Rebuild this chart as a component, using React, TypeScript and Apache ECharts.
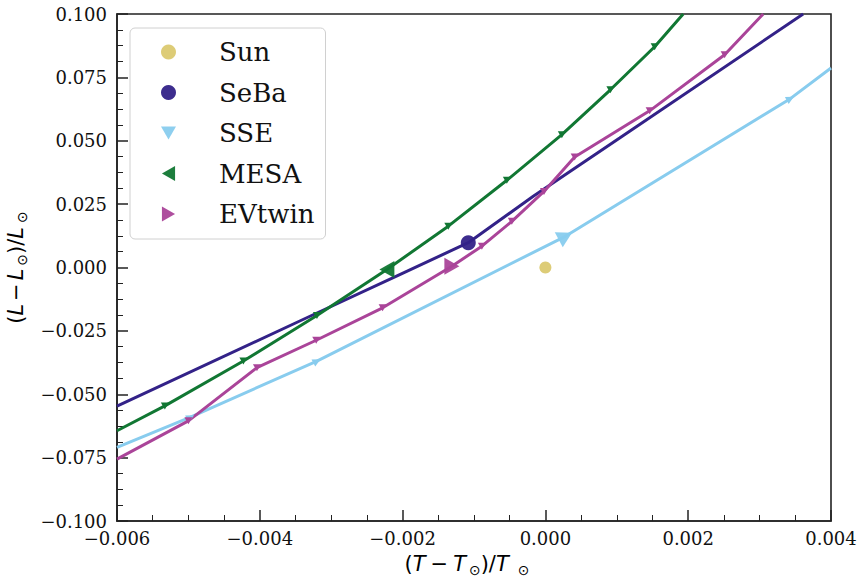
import React, { useEffect, useRef } from "react";
import * as echarts from "echarts";

// ---- data ----
const sunX = [0.0];
const sunY = [0.0];

const sebaX = [-0.006, -0.00344, -0.00204, -0.00108, -0.00017, 0.00104, 0.00361];
const sebaY = [-0.0547, -0.0211, -0.0028, 0.0098, 0.0281, 0.0511, 0.1];
const sebaBig = [3];

const sseX = [-0.006, -0.00497, -0.0032, 0.00028, 0.00343, 0.004];
const sseY = [-0.071, -0.059, -0.0369, 0.0123, 0.0666, 0.0787];
const sseSmall = [1, 2, 4];
const sseBig = [3];

const mesaX = [-0.006, -0.00533, -0.00423, -0.0032, -0.00222, -0.00136, -0.00054, 0.00023, 0.00091, 0.00153, 0.00193];
const mesaY = [-0.0644, -0.0546, -0.0369, -0.0189, -0.0008, 0.0163, 0.0344, 0.0524, 0.0701, 0.0871, 0.1];
const mesaSmall = [1, 2, 3, 5, 6, 7, 8, 9];
const mesaBig = [4];

const evX = [-0.006, -0.005, -0.00404, -0.00321, -0.00228, -0.00131, -0.00089, -0.00047, -0.00002, 0.00041, 0.00146, 0.00251, 0.00305];
const evY = [-0.0756, -0.0605, -0.0395, -0.0287, -0.0159, 0.0005, 0.0084, 0.0182, 0.03, 0.0436, 0.0618, 0.0839, 0.1];
const evSmall = [1, 2, 3, 4, 6, 7, 8, 9, 10, 11];
const evBig = [5];

const legendNames = ["Sun", "SeBa", "SSE", "MESA", "EVtwin"];
const xTicks = { min: -0.006, max: 0.004, interval: 0.002 };
const yTicks = { min: -0.1, max: 0.1, interval: 0.025 };

// ---- styles ----
const C_SUN = "#DDCC77";
const C_SEBA = "#332288";
const C_SSE = "#88CCEE";
const C_MESA = "#117733";
const C_EV = "#AA4499";

const pts = (xs: number[], ys: number[]) => xs.map((x, i) => [x, ys[i]]);
const pick = (xs: number[], ys: number[], idx: number[]) => idx.map((i) => [xs[i], ys[i]]);

const fmt = (v: number) => {
  const a = Math.abs(v) < 1e-12 ? 0 : v;
  const s = Math.abs(a).toFixed(3);
  return a < 0 ? "\u2212" + s : s;
};

const SERIF = "DejaVu Serif";
const SANS = "DejaVu Sans";

export default function App() {
  const ref = useRef<HTMLDivElement>(null);
  useEffect(() => {
    if (!ref.current) return;
    const chart = echarts.init(ref.current, undefined, { renderer: "svg" });

    const lineS = (name: string, xs: number[], ys: number[], color: string, z: number) => ({
      name,
      type: "line",
      data: pts(xs, ys),
      symbol: "none",
      showSymbol: false,
      lineStyle: { color, width: 3 },
      itemStyle: { color },
      z,
      silent: true,
    });
    const scat = (
      name: string,
      data: number[][],
      color: string,
      symbol: string,
      size: number | number[],
      rotate: number,
      z: number,
      opacity = 1
    ) => ({
      name,
      type: "scatter",
      data,
      symbol,
      symbolSize: size,
      symbolRotate: rotate,
      itemStyle: { color, opacity },
      z,
      silent: true,
    });

    const base = { fontFamily: SANS, fontSize: 21, color: "#000" };
    const xRich = {
      i: { ...base, fontStyle: "italic" },
      m: { ...base, padding: [0, 5, 0, 5] },
      s: { fontFamily: SANS, fontSize: 14, color: "#000", padding: [12, 0, 0, 3] },
      t: { fontFamily: SANS, fontSize: 14, color: "#000", padding: [12, 0, 0, 9] },
    };
    const yRich = {
      i: { ...base, fontStyle: "italic" },
      m: { ...base, padding: [0, 3, 0, 3] },
      s: { fontFamily: SANS, fontSize: 14, color: "#000", padding: [12, 0, 0, 3] },
      t: { fontFamily: SANS, fontSize: 14, color: "#000", padding: [12, 0, 0, 4] },
    };

    const axisCommon = {
      type: "value",
      nameLocation: "middle",
      axisLine: { show: true, onZero: false, lineStyle: { color: "#222", width: 1.6 } },
      axisTick: { show: true, inside: true, length: 11, lineStyle: { color: "#222", width: 1.5 } },
      minorTick: { show: true, splitNumber: 4, length: 6, lineStyle: { color: "#222", width: 1 } },
      splitLine: { show: false },
    };
    const labelCommon = {
      formatter: fmt,
      fontFamily: SERIF,
      fontSize: 18,
      color: "#111",
      showMinLabel: true,
      showMaxLabel: true,
    };

    chart.setOption({
      animation: false,
      backgroundColor: "#fff",
      grid: {
        left: 117,
        right: 27,
        top: 14,
        bottom: 57,
        show: true,
        borderColor: "#222",
        borderWidth: 1.6,
        backgroundColor: "transparent",
        containLabel: false,
        outerBoundsMode: "none",
      },
      xAxis: {
        ...axisCommon,
        min: xTicks.min,
        max: xTicks.max,
        interval: xTicks.interval,
        name: "({i|T}{m|\u2212}{i|T}{s|\u2299})/{i|T}{t|\u2299}",
        nameGap: 30,
        nameTextStyle: { ...base, rich: xRich, padding: [0, 14, 0, 0] },
        axisLabel: { ...labelCommon, margin: 8 },
      },
      yAxis: {
        ...axisCommon,
        min: yTicks.min,
        max: yTicks.max,
        interval: yTicks.interval,
        name: "({i|L}{m|\u2212}{i|L}{s|\u2299})/{i|L}{t|\u2299}",
        nameGap: 74,
        nameRotate: 90,
        nameTextStyle: { ...base, rich: yRich },
        axisLabel: { ...labelCommon, margin: 10 },
      },
      legend: {
        left: 130,
        top: 28,
        orient: "vertical",
        selectedMode: false,
        itemWidth: 15,
        itemHeight: 15,
        itemGap: 14.5,
        padding: [11, 11, 12, 31],
        backgroundColor: "rgba(255,255,255,0.85)",
        borderColor: "#d0d0d0",
        borderWidth: 1,
        borderRadius: 5,
        textStyle: { fontFamily: SERIF, fontSize: 26, color: "#111", padding: [0, 0, 0, 38] },
        data: [
          { name: legendNames[0], icon: "circle" },
          { name: legendNames[1], icon: "circle" },
          { name: legendNames[2], icon: "path://M0,0L16,0L8,14Z" },
          { name: legendNames[3], icon: "path://M14,0L14,16L0,8Z" },
          { name: legendNames[4], icon: "path://M0,0L0,16L14,8Z" },
        ],
      },
      series: [
        lineS("SeBa track", sebaX, sebaY, C_SEBA, 2),
        lineS("SSE track", sseX, sseY, C_SSE, 2),
        lineS("MESA track", mesaX, mesaY, C_MESA, 2),
        lineS("EVtwin track", evX, evY, C_EV, 2),
        scat("SSE marks", pick(sseX, sseY, sseSmall), C_SSE, "triangle", [8, 8], -62, 3),
        scat("MESA marks", pick(mesaX, mesaY, mesaSmall), C_MESA, "triangle", [8, 7], 180, 3),
        scat("EVtwin marks", pick(evX, evY, evSmall), C_EV, "triangle", [8, 7], 180, 3),
        scat(legendNames[0], pts(sunX, sunY), C_SUN, "circle", 12, 0, 5),
        scat(legendNames[1], pick(sebaX, sebaY, sebaBig), C_SEBA, "circle", 15, 0, 5, 0.95),
        scat(legendNames[2], pick(sseX, sseY, sseBig), C_SSE, "triangle", [17, 15], -62, 5, 0.95),
        scat(legendNames[3], pick(mesaX, mesaY, mesaBig), C_MESA, "triangle", [17, 15], 90, 5, 0.95),
        scat(legendNames[4], pick(evX, evY, evBig), C_EV, "triangle", [17, 15], -90, 5, 0.95),
      ],
    });
    return () => chart.dispose();
  }, []);

  return (
    <div
      ref={ref}
      style={{ position: "fixed", left: 0, top: 0, width: 858, height: 578, background: "#fff" }}
    />
  );
}
